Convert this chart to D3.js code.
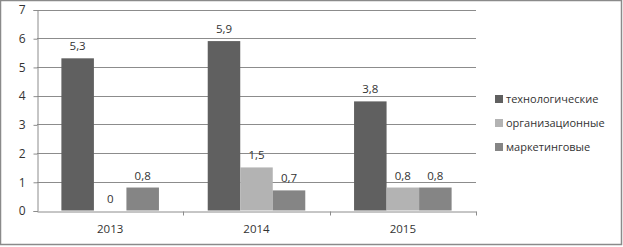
<!DOCTYPE html>
<html>
<head>
<meta charset="utf-8">
<script src="https://cdn.jsdelivr.net/npm/d3@7"></script>
<style>
body { margin: 0; background: #fff; }
text { font-family: "Open Sans", sans-serif; fill: #333; }
</style>
</head>
<body>
<div id="chart"></div>
<script>
var w = 623;
var h = 247;

// data
var years = ["2013", "2014", "2015"];
var seriesNames = ["технологические", "организационные", "маркетинговые"];
var tech = [5.3, 5.9, 3.8];
var org = [0, 1.5, 0.8];
var mark = [0.8, 0.7, 0.8];
var yTicks = [0, 1, 2, 3, 4, 5, 6, 7];
var colors = ["#606060", "#b3b3b3", "#858585"];

var margin = {left: 37, right: 147, top: 9.5, bottom: 36.5};

var svg = d3.select("#chart")
            .append("svg")
            .attr("width", w)
            .attr("height", h);

// outer frame
svg.append("rect")
   .attr("x", 0.5).attr("y", 0.5)
   .attr("width", 621).attr("height", 244)
   .attr("fill", "#fff")
   .attr("stroke", "#8a8a8a")
   .attr("stroke-width", 1.5);

var xScale = d3.scaleBand()
            .domain(years)
            .range([margin.left, w - margin.right])
            .paddingInner(0)
            .paddingOuter(0);

var yScale = d3.scaleLinear()
            .domain([0, 7])
            .range([h - margin.bottom, margin.top]);

var inner = d3.scaleBand()
            .domain(seriesNames)
            .range([0, xScale.bandwidth()])
            .paddingOuter(0.75)   // gap width 150%
            .paddingInner(0);

// gridlines
svg.append("g")
   .selectAll("line")
   .data(yTicks.slice(1))
   .enter().append("line")
   .attr("x1", margin.left).attr("x2", w - margin.right)
   .attr("y1", function(d){ return Math.round(yScale(d)) + 0.5; })
   .attr("y2", function(d){ return Math.round(yScale(d)) + 0.5; })
   .attr("stroke", "#8c8c8c");

var rows = years.map(function(y, i){ return [tech[i], org[i], mark[i]]; });

var groups = svg.append("g")
   .selectAll("g")
   .data(rows)
   .enter().append("g")
   .attr("transform", function(d, i){ return "translate(" + xScale(years[i]) + ",0)"; });

groups.selectAll("rect")
   .data(function(d){ return d; })
   .enter().append("rect")
   .attr("x", function(d, j){ return inner(seriesNames[j]); })
   .attr("width", inner.bandwidth())
   .attr("y", function(d){ return yScale(d); })
   .attr("height", function(d){ return yScale(0) - yScale(d); })
   .attr("fill", function(d, j){ return colors[j]; });

groups.selectAll("text")
   .data(function(d){ return d; })
   .enter().append("text")
   .attr("x", function(d, j){ return inner(seriesNames[j]) + inner.bandwidth() / 2; })
   .attr("y", function(d){ return yScale(d) - 8; })
   .attr("text-anchor", "middle")
   .style("font-size", "11.5px")
   .text(function(d){ return String(d).replace(".", ","); });

// axes
var yAxis = d3.axisLeft(yScale)
   .tickValues(yTicks)
   .tickSize(4)
   .tickPadding(8)
   .tickFormat(d3.format("d"));

var gy = svg.append("g")
   .attr("transform", "translate(" + (margin.left + 0.5) + ",0.5)")
   .call(yAxis);
gy.select(".domain").attr("stroke", "#8c8c8c");
gy.selectAll(".tick line").attr("stroke", "#8c8c8c");
gy.selectAll("text").style("font-size", "12px").attr("fill", "#333").style("font-family", "Open Sans");

var xAxis = d3.axisBottom(xScale).tickSize(0).tickPadding(13);
var gx = svg.append("g")
   .attr("transform", "translate(0," + (Math.round(yScale(0)) + 0.5) + ")")
   .call(xAxis);
gx.select(".domain").attr("stroke", "#8c8c8c");
gx.selectAll("text").style("font-size", "11.5px").attr("fill", "#333").style("font-family", "Open Sans");

// category boundary ticks
gx.selectAll(".sep")
   .data(years)
   .enter().append("line")
   .attr("x1", function(d){ return Math.round(xScale(d) + xScale.bandwidth()) + 0.5; })
   .attr("x2", function(d){ return Math.round(xScale(d) + xScale.bandwidth()) + 0.5; })
   .attr("y1", 0).attr("y2", 4)
   .attr("stroke", "#8c8c8c");

// legend
var legend = svg.append("g")
   .selectAll("g")
   .data(seriesNames)
   .enter().append("g")
   .attr("transform", function(d, i){ return "translate(495," + (99 + i * 24) + ")"; });

legend.append("rect")
   .attr("x", 0).attr("y", -4)
   .attr("width", 8).attr("height", 8)
   .attr("fill", function(d, i){ return colors[i]; });

legend.append("text")
   .attr("x", 11).attr("y", 0)
   .attr("dy", "0.35em")
   .style("font-size", "11px")
   .text(function(d){ return d; });
</script>
</body>
</html>
